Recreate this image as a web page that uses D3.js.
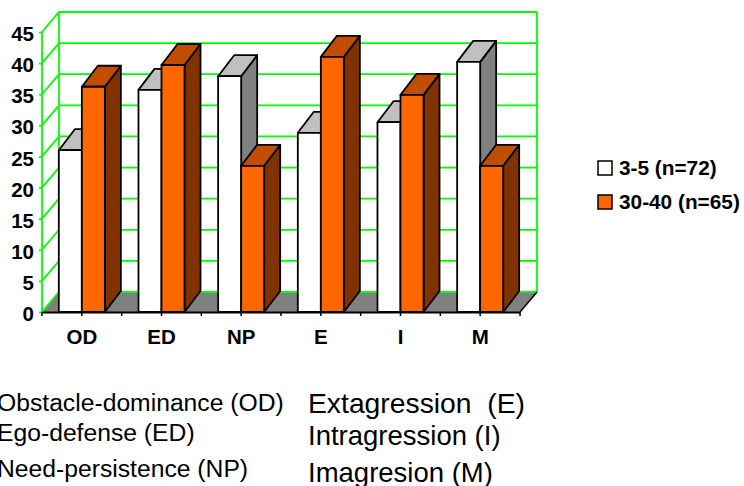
<!DOCTYPE html>
<html>
<head>
<meta charset="utf-8">
<script src="https://cdn.jsdelivr.net/npm/d3@7"></script>
<style>
  html, body { margin: 0; padding: 0; background: #fff; }
  svg { display: block; }
  text { font-family: "Liberation Sans", Arial, sans-serif; fill: #000; white-space: pre; }
</style>
</head>
<body>
<div id="chart"></div>
<script>
// --------------------------------------
//  Data
// --------------------------------------

const categories = ["OD", "ED", "NP", "E", "I", "M"];
const seriesNames = ["3-5 (n=72)", "30-40 (n=65)"];
const youngValues = [26, 35.7, 37.9, 28.8, 30.5, 40.2];
const adultValues = [36.2, 39.7, 23.5, 41, 34.9, 23.5];
const yTicks = [0, 5, 10, 15, 20, 25, 30, 35, 40, 45];
const notesLeft = ["Obstacle-dominance (OD)", "Ego-defense (ED)", "Need-persistence (NP)"];
const notesRight = ["Extagression  (E)", "Intragression (I)", "Imagresion (M)"];

// --------------------------------------
//  Canvas
// --------------------------------------

const width = 744, height = 486;
const depthX = 17, depthY = 20;
const barDepthX = 16, barDepthY = 21;
const green = "#00ff00";

const colors = [
  { front: "#ffffff", top: "#c0c0c0", side: "#808080" },
  { front: "#ff6600", top: "#c04d00", side: "#803300" }
];

const svg = d3.select("#chart")
  .append("svg")
    .attr("width", width)
    .attr("height", height)
    .attr("viewBox", [0, 0, width, height]);

// --------------------------------------
//  Scales
// --------------------------------------

const x = d3.scaleBand()
    .domain(categories)
    .range([42, 520]);

const x1 = d3.scaleBand()
    .domain(seriesNames)
    .range([0, x.bandwidth()])
    .paddingOuter(0.73)
    .paddingInner(0);

const y = d3.scaleLinear()
    .domain([0, 45])
    .range([312, 32]);

const pts = p => p.map(d => d.join(",")).join(" ");

// --------------------------------------
//  Walls and floor
// --------------------------------------

const x0 = x.range()[0], xEnd = x.range()[1];

svg.append("polygon")
  .attr("points", pts([[x0, y(0)], [x0 + depthX, y(0) - depthY], [xEnd + depthX, y(0) - depthY], [xEnd, y(0)]]))
  .attr("fill", "#808080");

const grid = svg.append("g")
  .attr("stroke", green)
  .attr("stroke-width", 1.8)
  .attr("fill", "none");

grid.selectAll("polyline")
  .data(yTicks)
  .join("polyline")
    .attr("points", d => pts([[x0, y(d)], [x0 + depthX, y(d) - depthY], [xEnd + depthX, y(d) - depthY]]));

grid.append("line")
  .attr("x1", x0).attr("x2", x0)
  .attr("y1", y(0)).attr("y2", y(45));

grid.append("line")
  .attr("x1", x0 + depthX).attr("x2", x0 + depthX)
  .attr("y1", y(0) - depthY).attr("y2", y(45) - depthY);

grid.append("line")
  .attr("x1", xEnd + depthX).attr("x2", xEnd + depthX)
  .attr("y1", y(0) - depthY).attr("y2", y(45) - depthY);

svg.append("line")
  .attr("x1", xEnd).attr("x2", xEnd + depthX)
  .attr("y1", y(0)).attr("y2", y(0) - depthY)
  .attr("stroke", "#000")
  .attr("stroke-width", 1.5);

// --------------------------------------
//  Bars
// --------------------------------------

const rows = categories.flatMap((c, i) => [
  { cat: c, name: seriesNames[0], value: youngValues[i], col: colors[0] },
  { cat: c, name: seriesNames[1], value: adultValues[i], col: colors[1] }
]);

const bar = svg.append("g")
  .attr("stroke", "#000")
  .attr("stroke-width", 1.8)
  .attr("stroke-linejoin", "round")
  .selectAll("g")
  .data(rows)
  .join("g");

const left = d => x(d.cat) + x1(d.name);
const right = d => left(d) + x1.bandwidth();

bar.append("polygon")
  .attr("fill", d => d.col.side)
  .attr("points", d => pts([
    [right(d), y(0)], [right(d) + barDepthX, y(0) - barDepthY],
    [right(d) + barDepthX, y(d.value) - barDepthY], [right(d), y(d.value)]
  ]));

bar.append("polygon")
  .attr("fill", d => d.col.top)
  .attr("points", d => pts([
    [left(d), y(d.value)], [left(d) + barDepthX, y(d.value) - barDepthY],
    [right(d) + barDepthX, y(d.value) - barDepthY], [right(d), y(d.value)]
  ]));

bar.append("rect")
  .attr("fill", d => d.col.front)
  .attr("x", left)
  .attr("y", d => y(d.value))
  .attr("width", x1.bandwidth())
  .attr("height", d => y(0) - y(d.value));

// --------------------------------------
//  Axes
// --------------------------------------

const yAxis = svg.append("g")
  .attr("transform", `translate(${x0}, 0)`)
  .call(d3.axisLeft(y).tickValues(yTicks).tickSize(3).tickPadding(5));

yAxis.select(".domain").remove();
yAxis.selectAll("line").attr("stroke", green).attr("stroke-width", 1.8);
yAxis.selectAll("text")
  .attr("font-size", 20.5)
  .attr("font-weight", "bold")
  .attr("y", 2)
  .style("font-family", '"Liberation Sans", Arial, sans-serif');

const xAxis = svg.append("g")
  .attr("transform", `translate(0, ${y(0)})`)
  .call(d3.axisBottom(x).tickSize(4).tickSizeOuter(0).tickPadding(13));

xAxis.select(".domain").attr("stroke-width", 1.8);
xAxis.selectAll("line").attr("stroke-width", 1.5);
xAxis.selectAll("text")
  .attr("font-size", 20.5)
  .attr("font-weight", "bold")
  .style("font-family", '"Liberation Sans", Arial, sans-serif');

xAxis.append("g")
  .selectAll("line")
  .data(d3.range(categories.length + 1))
  .join("line")
    .attr("x1", d => x0 + d * x.step())
    .attr("x2", d => x0 + d * x.step())
    .attr("y2", 4)
    .attr("stroke", "#000")
    .attr("stroke-width", 1.5);

// --------------------------------------
//  Legend
// --------------------------------------

const legend = svg.append("g")
  .selectAll("g")
  .data(seriesNames)
  .join("g")
    .attr("transform", (d, i) => `translate(598, ${161 + i * 34})`);

legend.append("rect")
  .attr("width", 14)
  .attr("height", 14)
  .attr("fill", (d, i) => colors[i].front)
  .attr("stroke", "#000")
  .attr("stroke-width", 1.5);

legend.append("text")
  .attr("x", 21)
  .attr("y", 14)
  .attr("font-size", 20.8)
  .attr("font-weight", "bold")
  .text(d => d);

// --------------------------------------
//  Notes below the chart
// --------------------------------------

const leftBase = [411, 441, 477];
const rightBase = [413, 445, 482];
const rightSize = [28.3, 27.5, 27.5];

svg.append("g")
  .selectAll("text")
  .data(notesLeft)
  .join("text")
    .attr("x", -3)
    .attr("y", (d, i) => leftBase[i])
    .attr("font-size", 24.7)
    .text(d => d);

svg.append("g")
  .selectAll("text")
  .data(notesRight)
  .join("text")
    .attr("x", 308)
    .attr("y", (d, i) => rightBase[i])
    .attr("font-size", (d, i) => rightSize[i])
    .text(d => d);
</script>
</body>
</html>
